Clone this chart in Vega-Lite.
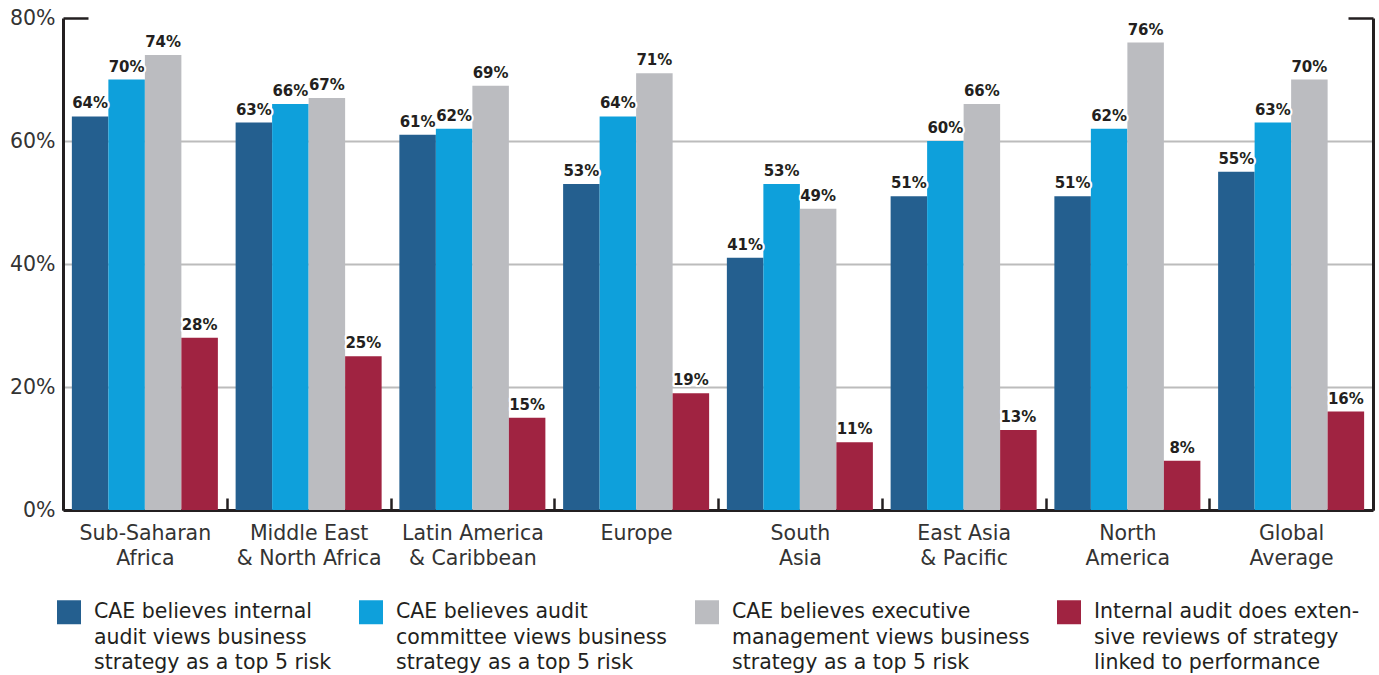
{
  "$schema": "https://vega.github.io/schema/vega-lite/v6.json",
  "width": 1310,
  "height": 492,
  "autosize": {"type": "none"},
  "padding": {"left": 63, "top": 18, "right": 6, "bottom": 165},
  "background": "white",
  "config": {
    "view": {"stroke": null},
    "font": "DejaVu Sans",
    "style": {"guide-label": {"lineHeight": 25.5}}
  },
  "data": {
    "values": [
      {"region": "Sub-Saharan Africa", "a": 0.64, "b": 0.70, "c": 0.74, "d": 0.28},
      {"region": "Middle East & North Africa", "a": 0.63, "b": 0.66, "c": 0.67, "d": 0.25},
      {"region": "Latin America & Caribbean", "a": 0.61, "b": 0.62, "c": 0.69, "d": 0.15},
      {"region": "Europe", "a": 0.53, "b": 0.64, "c": 0.71, "d": 0.19},
      {"region": "South Asia", "a": 0.41, "b": 0.53, "c": 0.49, "d": 0.11},
      {"region": "East Asia & Pacific", "a": 0.51, "b": 0.60, "c": 0.66, "d": 0.13},
      {"region": "North America", "a": 0.51, "b": 0.62, "c": 0.76, "d": 0.08},
      {"region": "Global Average", "a": 0.55, "b": 0.63, "c": 0.70, "d": 0.16}
    ]
  },
  "transform": [{"fold": ["a", "b", "c", "d"], "as": ["series", "value"]}],
  "encoding": {
    "x": {
      "field": "region",
      "type": "nominal",
      "sort": ["Sub-Saharan Africa", "Middle East & North Africa", "Latin America & Caribbean", "Europe", "South Asia", "East Asia & Pacific", "North America", "Global Average"],
      "scale": {"paddingInner": 0, "paddingOuter": 0},
      "title": null,
      "axis": {
        "labelAngle": 0,
        "labelFontSize": 20.5,
        "labelColor": "#333333",
        "labelLineHeight": 25,
        "labelBaseline": "top",
        "labelPadding": 25,
        "labelExpr": "{'Sub-Saharan Africa':['Sub-Saharan','Africa'],'Middle East & North Africa':['Middle East','& North Africa'],'Latin America & Caribbean':['Latin America','& Caribbean'],'Europe':['Europe'],'South Asia':['South','Asia'],'East Asia & Pacific':['East Asia','& Pacific'],'North America':['North','America'],'Global Average':['Global','Average']}[datum.label]",
        "domainColor": "#231f20",
        "domainWidth": 3,
        "tickBand": "extent",
        "tickSize": -12,
        "tickWidth": 2.5,
        "tickColor": "#231f20",
        "grid": false
      }
    },
    "xOffset": {
      "field": "series",
      "type": "nominal",
      "sort": ["a", "b", "c", "d"],
      "scale": {"paddingInner": 0, "paddingOuter": 0.243}
    }
  },
  "layer": [
    {
      "mark": {"type": "bar"},
      "encoding": {
        "y": {
          "field": "value",
          "type": "quantitative",
          "scale": {"domain": [0, 0.8], "nice": false},
          "title": null,
          "axis": {
            "values": [0, 0.2, 0.4, 0.6, 0.8],
            "format": ".0%",
            "labelFontSize": 20.5,
            "labelColor": "#333333",
            "labelPadding": 33,
            "grid": true,
            "gridWidth": 2,
            "gridColor": {"condition": {"test": "datum.value <= 0 || datum.value >= 0.8", "value": "transparent"}, "value": "#bcbcbc"},
            "domainColor": "#231f20",
            "domainWidth": 3,
            "tickSize": -25,
            "tickWidth": 2.5,
            "tickColor": {"condition": {"test": "datum.value >= 0.8", "value": "#231f20"}, "value": "transparent"}
          }
        },
        "color": {
          "field": "series",
          "type": "nominal",
          "sort": ["a", "b", "c", "d"],
          "scale": {"domain": ["a", "b", "c", "d"], "range": ["#245f8f", "#0ea0db", "#bbbcc0", "#a02341"]},
          "legend": {
            "orient": "none",
            "legendX": -6,
            "legendY": 588,
            "direction": "horizontal",
            "columns": 4,
            "columnPadding": 27,
            "title": null,
            "symbolType": "M-1,-1.5H1V0.5H-1Z",
            "symbolSize": 576,
            "symbolStrokeWidth": 0,
            "symbolOpacity": 1,
            "labelFontSize": 20.5,
            "labelColor": "#231f20",
            "labelOffset": 13,
            "labelLimit": 0,
            "labelBaseline": "alphabetic",
            "labelExpr": "{'a':['CAE believes internal','audit views business','strategy as a top 5 risk'],'b':['CAE believes audit','committee views business','strategy as a top 5 risk'],'c':['CAE believes executive','management views business','strategy as a top 5 risk'],'d':['Internal audit does exten-','sive reviews of strategy','linked to performance']}[datum.label]"
          }
        }
      }
    },
    {
      "mark": {"type": "text", "baseline": "bottom", "dy": -5, "fontSize": 15, "fontWeight": "bold", "stroke": "white", "strokeWidth": 4, "strokeJoin": "round", "fill": "white"},
      "encoding": {
        "y": {"field": "value", "type": "quantitative", "axis": null},
        "text": {"field": "value", "type": "quantitative", "format": ".0%"}
      }
    },
    {
      "mark": {"type": "text", "baseline": "bottom", "dy": -5, "fontSize": 15, "fontWeight": "bold", "fill": "#231f20"},
      "encoding": {
        "y": {
          "field": "value",
          "type": "quantitative",
          "title": null,
          "axis": {
            "orient": "right",
            "values": [0.8],
            "labels": false,
            "grid": false,
            "domainColor": "#231f20",
            "domainWidth": 3,
            "tickSize": -25,
            "tickWidth": 2.5,
            "tickColor": "#231f20"
          }
        },
        "text": {"field": "value", "type": "quantitative", "format": ".0%"}
      }
    }
  ],
  "resolve": {"axis": {"y": "independent"}}
}
